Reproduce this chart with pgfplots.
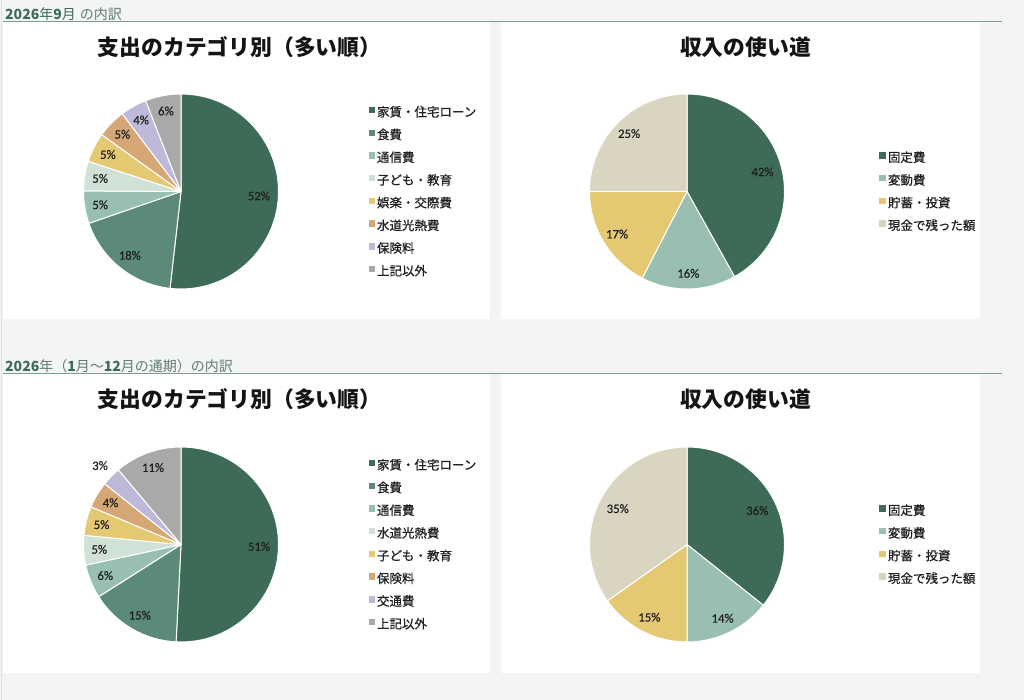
\documentclass[border=0pt]{standalone}
\usepackage{pgfplots}
\pgfplotsset{compat=1.18}
\usepackage{pgfplotstable}
\usepackage{fontspec}
\setmainfont{Noto Sans CJK JP}
\newfontfamily\legfont{Noto Sans CJK JP}[FakeBold=0.5]
\newfontfamily\pctfont{Carlito}[FakeBold=0.3]

\definecolor{bg}{HTML}{F3F5F4}
\definecolor{hdr}{HTML}{3D6B58}
\definecolor{hdrlight}{HTML}{5F7D70}
\definecolor{rule}{HTML}{7A9E8F}
% spending palette (by position)
\definecolor{s0}{HTML}{3D6B58}
\definecolor{s1}{HTML}{5B8B78}
\definecolor{s2}{HTML}{98BFB0}
\definecolor{s3}{HTML}{D0E1D8}
\definecolor{s4}{HTML}{E4C872}
\definecolor{s5}{HTML}{D4A774}
\definecolor{s6}{HTML}{BEB8D9}
\definecolor{s7}{HTML}{A9A9A9}
% income palette
\definecolor{i0}{HTML}{3D6B58}
\definecolor{i1}{HTML}{98BFB0}
\definecolor{i2}{HTML}{E4C872}
\definecolor{i3}{HTML}{D9D5C1}

% --- data (percent of total) ---
\pgfplotstableread{
name v
家賃・住宅ローン 51.8
食費 17.9
通信費 5.4
子ども・教育 4.9
娯楽・交際費 4.9
水道光熱費 4.8
保険料 4.4
上記以外 5.9
}\sepmonth

\pgfplotstableread{
name v
固定費 41.9
変動費 15.7
貯蓄・投資 17.4
現金で残った額 25.0
}\incmonth

\pgfplotstableread{
name v
家賃・住宅ローン 50.8
食費 15.2
通信費 5.6
水道光熱費 4.9
子ども・教育 4.8
保険料 4.4
交通費 3.2
上記以外 11.1
}\sepyear

\pgfplotstableread{
name v
固定費 35.7
変動費 14.3
貯蓄・投資 15.2
現金で残った額 34.8
}\incyear

\pgfplotsset{
  pie/.style={
    hide axis, scale only axis, width=195pt, height=195pt,
    xmin=-1, xmax=1, ymin=-1, ymax=1, clip=false, anchor=south west,
    title style={font=\bfseries\fontsize{21.8}{24}\selectfont, anchor=center, text=black!92},
    legend style={draw=none, fill=none, anchor=west, inner sep=0pt,
      font=\legfont\fontsize{12.5}{14}\selectfont, text=black!88,
      cells={anchor=west}, row sep=11.7pt, column sep=2.6pt,
      nodes={inner sep=0pt, text height=10pt, text depth=1pt}},
    legend image code/.code={\fill[##1] (0pt,-0.5pt) rectangle (5.5pt,5pt);},
  },
}

% #1 table, #2 last row, #3 colour prefix
\newcommand\drawpie[3]{%
  \def\cum{0}%
  \pgfplotsforeachungrouped \i in {0,...,#2}{%
    \pgfplotstablegetelem{\i}{v}\of#1%
    \pgfmathsetmacro\va{90-3.6*\cum}%
    \pgfmathsetmacro\cum{\cum+\pgfplotsretval}%
    \pgfmathsetmacro\vb{90-3.6*\cum}%
    \edef\temp{\noexpand\fill[#3\i, draw=white, line width=1pt, line join=round]
      (axis cs:0,0) -- (axis cs:{cos(\va)},{sin(\va)})
      arc[start angle=\va, end angle=\vb, radius=97.5pt] -- cycle;}%
    \temp
  }%
  \def\cum{0}%
  \pgfplotsforeachungrouped \i in {0,...,#2}{%
    \pgfplotstablegetelem{\i}{v}\of#1%
    \let\pv\pgfplotsretval
    \pgfmathsetmacro\vm{90-3.6*(\cum+\pv/2)}%
    \pgfmathsetmacro\cum{\cum+\pv}%
    \pgfmathsetmacro\rr{\pv<3.5 ? 1.16 : (\pv>30 ? 0.8 : 0.84)}%
    \pgfmathsetmacro\lab{int(round(\pv))}%
    \edef\temp{\noexpand\node[font=\noexpand\pctfont\noexpand\fontsize{12.8}{14}\noexpand\selectfont, text=black!88]
      at (axis cs:{\rr*cos(\vm)},{\rr*sin(\vm)}) {\lab\noexpand\%};}%
    \temp
  }%
  \pgfplotsforeachungrouped \i in {0,...,#2}{%
    \edef\temp{\noexpand\addlegendimage{#3\i}}\temp
    \pgfplotstablegetelem{\i}{name}\of#1%
    \addlegendentryexpanded{\pgfplotsretval}%
  }%
}

\begin{document}
\begin{tikzpicture}[x=1pt,y=1pt]
\fill[bg] (0,0) rectangle (1024,700);
\useasboundingbox (0,0) rectangle (1024,700);
\draw[black!12, line width=0.6pt] (1.5,0) -- (1.5,700);

% panels
\fill[white] (3,381) rectangle (490,678);
\fill[white] (501,381) rectangle (980,678);
\fill[white] (3,27) rectangle (490,326);
\fill[white] (501,27) rectangle (980,326);

% section headers
\draw[rule, line width=1.5pt] (3,678.5) -- (1002,678.5);
\draw[rule, line width=1.5pt] (3,326.5) -- (1002,326.5);
\node[anchor=west, inner sep=0pt, font=\fontsize{14}{16}\selectfont] at (5,686)
  {\textcolor{hdr}{\bfseries 2026}\textcolor{hdr}{年}\textcolor{hdr}{\bfseries 9}\textcolor{hdr}{月}\hspace{4pt}\textcolor{hdrlight}{の内訳}};
\node[anchor=west, inner sep=0pt, font=\fontsize{14}{16}\selectfont] at (5,334)
  {\textcolor{hdr}{\bfseries 2026}\textcolor{hdrlight}{年（}\textcolor{hdr}{\bfseries 1}\textcolor{hdrlight}{月～}\textcolor{hdr}{\bfseries 12}\textcolor{hdrlight}{月の通期）の内訳}};

\begin{axis}[pie, at={(83.5pt,411pt)}, title={支出のカテゴリ別（多い順）},
  title style={at={(axis description cs:0.8,1.21)}},
  legend style={at={(axis description cs:1.4605,0.5)}}]
  \drawpie{\sepmonth}{7}{s}
\end{axis}

\begin{axis}[pie, at={(589.5pt,411pt)}, title={収入の使い道},
  title style={at={(axis description cs:0.8,1.21)}},
  legend style={at={(axis description cs:1.486,0.5)}}]
  \drawpie{\incmonth}{3}{i}
\end{axis}

\begin{axis}[pie, at={(83.5pt,58pt)}, title={支出のカテゴリ別（多い順）},
  title style={at={(axis description cs:0.8,1.215)}},
  legend style={at={(axis description cs:1.4605,0.5)}}]
  \drawpie{\sepyear}{7}{s}
\end{axis}

\begin{axis}[pie, at={(589.5pt,58pt)}, title={収入の使い道},
  title style={at={(axis description cs:0.8,1.215)}},
  legend style={at={(axis description cs:1.486,0.5)}}]
  \drawpie{\incyear}{3}{i}
\end{axis}
\end{tikzpicture}
\end{document}
